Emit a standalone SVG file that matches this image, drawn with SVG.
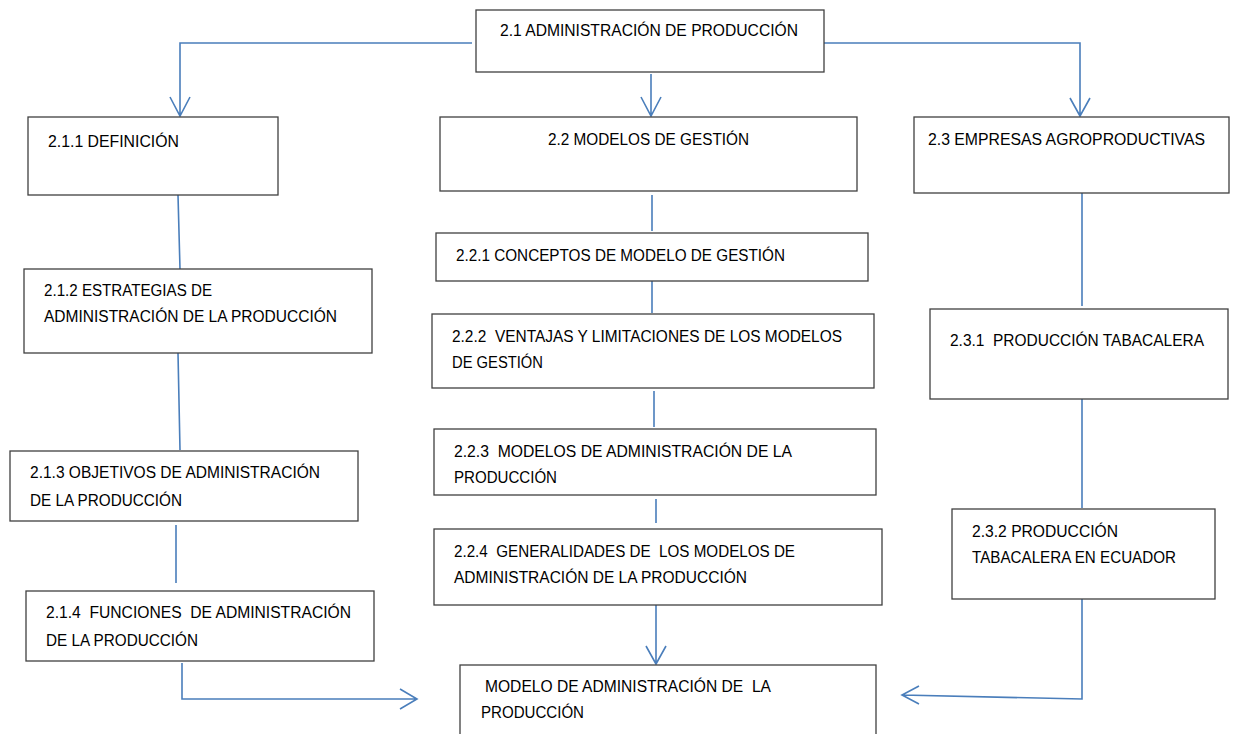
<svg xmlns="http://www.w3.org/2000/svg" width="1235" height="734" viewBox="0 0 1235 734">
<style>
.box{fill:#fff;stroke:#404040;stroke-width:1.3}
.t{font-family:"Liberation Sans","Open Sans",Arial,sans-serif;font-size:16px;fill:#000;white-space:pre}
.c{fill:none;stroke:#4a7ebb;stroke-width:1.6}
</style>
<rect width="1235" height="734" fill="#fff"/>
<g id="connectors">
<path class="c" d="M472,43 H180 V116 M170,97 L180,116 L190,97"/>
<path class="c" d="M824,43 H1080 V116 M1070,98 L1080,116 L1090,98"/>
<path class="c" d="M651,74 V116 M641,97 L651,116 L661,97"/>
<path class="c" d="M178,195 L180,269 M178,353 L180,450 M176,525 V583"/>
<path class="c" d="M182,663 V699 H417 M400,689 L417,699 L400,709"/>
<path class="c" d="M652,195 V231 M652,277 V313 M654,391 V427 M656,499 V523"/>
<path class="c" d="M656,605 V664 M646,646 L656,664 L666,646"/>
<path class="c" d="M1082,193 V306 M1082,399 V508 M1082,599 V699 L902,695 M919,686 L902,695 L919,704"/>
</g>
<g id="n21"><rect class="box" x="476" y="10" width="348" height="62"/><text class="t" x="500" y="36" textLength="298" lengthAdjust="spacingAndGlyphs">2.1 ADMINISTRACIÓN DE PRODUCCIÓN</text></g>
<g id="n211"><rect class="box" x="28" y="117" width="250" height="78"/><text class="t" x="48" y="147" textLength="131" lengthAdjust="spacingAndGlyphs">2.1.1 DEFINICIÓN</text></g>
<g id="n22"><rect class="box" x="440" y="117" width="417" height="74"/><text class="t" x="548" y="145" textLength="201" lengthAdjust="spacingAndGlyphs">2.2 MODELOS DE GESTIÓN</text></g>
<g id="n23"><rect class="box" x="914" y="117" width="315" height="76"/><text class="t" x="928" y="145" textLength="277" lengthAdjust="spacingAndGlyphs">2.3 EMPRESAS AGROPRODUCTIVAS</text></g>
<g id="n212"><rect class="box" x="24" y="269" width="348" height="84"/><text class="t" x="44" y="296" textLength="168" lengthAdjust="spacingAndGlyphs">2.1.2 ESTRATEGIAS DE</text><text class="t" x="44" y="322" textLength="293" lengthAdjust="spacingAndGlyphs">ADMINISTRACIÓN DE LA PRODUCCIÓN</text></g>
<g id="n213"><rect class="box" x="10" y="451" width="348" height="70"/><text class="t" x="30" y="478" textLength="290" lengthAdjust="spacingAndGlyphs">2.1.3 OBJETIVOS DE ADMINISTRACIÓN</text><text class="t" x="30" y="506" textLength="152" lengthAdjust="spacingAndGlyphs">DE LA PRODUCCIÓN</text></g>
<g id="n214"><rect class="box" x="26" y="591" width="348" height="70"/><text class="t" x="46" y="618" textLength="305" lengthAdjust="spacingAndGlyphs">2.1.4  FUNCIONES  DE ADMINISTRACIÓN</text><text class="t" x="46" y="646" textLength="152" lengthAdjust="spacingAndGlyphs">DE LA PRODUCCIÓN</text></g>
<g id="n221"><rect class="box" x="436" y="233" width="432" height="48"/><text class="t" x="456" y="261" textLength="329" lengthAdjust="spacingAndGlyphs">2.2.1 CONCEPTOS DE MODELO DE GESTIÓN</text></g>
<g id="n222"><rect class="box" x="432" y="314" width="442" height="74"/><text class="t" x="452" y="342" textLength="390" lengthAdjust="spacingAndGlyphs">2.2.2  VENTAJAS Y LIMITACIONES DE LOS MODELOS</text><text class="t" x="452" y="368" textLength="91" lengthAdjust="spacingAndGlyphs">DE GESTIÓN</text></g>
<g id="n223"><rect class="box" x="434" y="429" width="442" height="66"/><text class="t" x="454" y="457" textLength="338" lengthAdjust="spacingAndGlyphs">2.2.3  MODELOS DE ADMINISTRACIÓN DE LA</text><text class="t" x="454" y="483" textLength="103" lengthAdjust="spacingAndGlyphs">PRODUCCIÓN</text></g>
<g id="n224"><rect class="box" x="434" y="529" width="448" height="76"/><text class="t" x="454" y="557" textLength="341" lengthAdjust="spacingAndGlyphs">2.2.4  GENERALIDADES DE  LOS MODELOS DE</text><text class="t" x="454" y="583" textLength="293" lengthAdjust="spacingAndGlyphs">ADMINISTRACIÓN DE LA PRODUCCIÓN</text></g>
<g id="n231"><rect class="box" x="930" y="309" width="298" height="90"/><text class="t" x="950" y="346" textLength="254" lengthAdjust="spacingAndGlyphs">2.3.1  PRODUCCIÓN TABACALERA</text></g>
<g id="n232"><rect class="box" x="952" y="509" width="263" height="90"/><text class="t" x="972" y="537" textLength="146" lengthAdjust="spacingAndGlyphs">2.3.2 PRODUCCIÓN</text><text class="t" x="972" y="563" textLength="204" lengthAdjust="spacingAndGlyphs">TABACALERA EN ECUADOR</text></g>
<g id="nfinal"><rect class="box" x="460" y="665" width="416" height="80"/><text class="t" x="485" y="692" textLength="286" lengthAdjust="spacingAndGlyphs">MODELO DE ADMINISTRACIÓN DE  LA</text><text class="t" x="481" y="718" textLength="103" lengthAdjust="spacingAndGlyphs">PRODUCCIÓN</text></g>
</svg>
